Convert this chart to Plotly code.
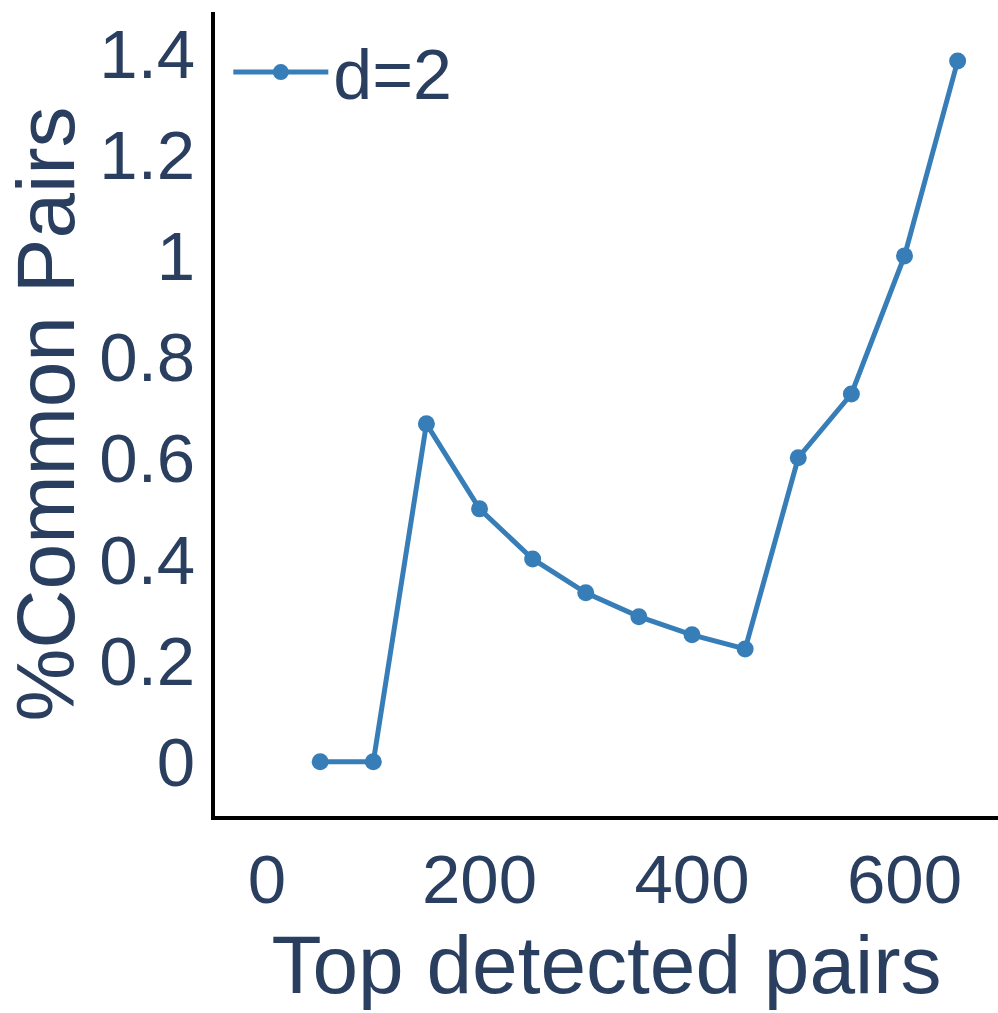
import plotly.graph_objects as go

x_vals = [50, 100, 150, 200, 250, 300, 350, 400, 450, 500, 550, 600, 650]
y_vals = [0.0, 0.0, 0.668, 0.50, 0.401, 0.334, 0.287, 0.251, 0.223, 0.601, 0.727, 1.0, 1.385]
series_name = "d=2"
x_tickvals = [0, 200, 400, 600]
y_tickvals = [0, 0.2, 0.4, 0.6, 0.8, 1.0, 1.2, 1.4]
y_ticktext = ["0", "0.2", "0.4", "0.6", "0.8", "1", "1.2", "1.4"]

font_family = "Liberation Sans, Arial, sans-serif"
text_color = "#2a3f5f"

fig = go.Figure()
fig.add_trace(go.Scatter(
    x=x_vals, y=y_vals, mode="lines+markers", name=series_name,
    line=dict(color="#377eb8", width=5),
    marker=dict(color="#377eb8", size=17),
))

fig.update_layout(
    width=998, height=1013,
    margin=dict(l=215, r=0, t=12, b=197),
    paper_bgcolor="white", plot_bgcolor="white",
    font=dict(family=font_family, color=text_color, size=69),
    showlegend=True,
    legend=dict(x=0.017, y=0.99, xanchor="left", yanchor="top",
                bgcolor="rgba(0,0,0,0)", font=dict(size=70),
                itemwidth=95),
    xaxis=dict(
        range=[-49, 688], tickvals=x_tickvals,
        showgrid=False, zeroline=False,
        showline=True, linecolor="black", linewidth=4,
        ticks="", tickfont=dict(size=69),
        title=dict(text="Top detected pairs", font=dict(size=82), standoff=20),
    ),
    yaxis=dict(
        range=[-0.107, 1.482], tickvals=y_tickvals, ticktext=y_ticktext,
        showgrid=False, zeroline=False,
        showline=True, linecolor="black", linewidth=4,
        ticks="", tickfont=dict(size=69), ticklabelstandoff=2,
        title=dict(text="%Common Pairs", font=dict(size=82), standoff=22),
    ),
)

fig.write_html("out.html")
